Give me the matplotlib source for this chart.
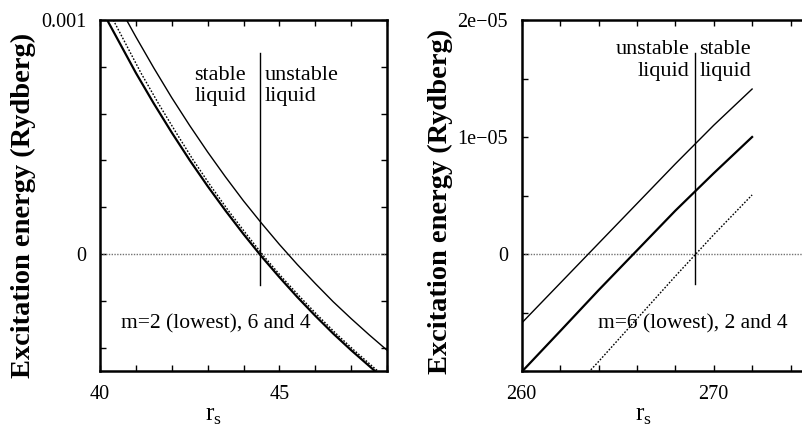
import matplotlib
matplotlib.use("Agg")
import matplotlib.pyplot as plt
from matplotlib.ticker import MultipleLocator

plt.rcParams['font.family'] = ['Liberation Serif', 'DejaVu Serif']
plt.rcParams['mathtext.fontset'] = 'custom'
plt.rcParams['mathtext.rm'] = 'Liberation Serif'

# ---- left panel data (rs ~ 40-48, energy in Rydberg) ----
rs_m2 = [40.2, 41, 41.5, 42, 42.5, 43, 43.5, 44, 44.5, 45, 45.5, 46, 46.5, 47, 47.7]
e_m2 = [1.0e-3, 0.774e-3, 0.643e-3, 0.519e-3, 0.401e-3, 0.290e-3, 0.185e-3, 0.085e-3,
        -0.010e-3, -0.099e-3, -0.184e-3, -0.264e-3, -0.340e-3, -0.411e-3, -0.505e-3]

rs_m6 = [40.37, 41.14, 41.63, 42.12, 42.6, 43.09, 43.58, 44.08, 44.57, 45.07, 45.58,
         46.08, 46.58, 47.08, 47.78]
e_m6 = e_m2

rs_m4 = [40.74, 41, 41.5, 42, 42.5, 43, 43.5, 44, 44.5, 45, 45.5, 46, 46.5, 47, 47.5, 48]
e_m4 = [1.0e-3, 0.928e-3, 0.795e-3, 0.668e-3, 0.549e-3, 0.436e-3, 0.329e-3, 0.227e-3,
        0.132e-3, 0.041e-3, -0.045e-3, -0.126e-3, -0.204e-3, -0.276e-3, -0.345e-3, -0.411e-3]

left_boundary = 44.47
left_xticks = [40, 45]
left_yticks = [0, 0.001]
left_yticklabels = ['0', '0.001']

# ---- right panel data (rs ~ 260-272) ----
rs2_m2 = [260, 262, 264, 266, 268, 270, 272]
e2_m2 = [-0.59e-5, -0.25e-5, 0.09e-5, 0.43e-5, 0.77e-5, 1.10e-5, 1.41e-5]

rs2_m6 = [260.1, 262, 264, 266, 268, 270, 272]
e2_m6 = [-0.99e-5, -0.66e-5, -0.31e-5, 0.03e-5, 0.37e-5, 0.69e-5, 1.0e-5]

rs2_m4 = [263.6, 264, 266, 268, 270, 272]
e2_m4 = [-0.99e-5, -0.92e-5, -0.555e-5, -0.19e-5, 0.165e-5, 0.505e-5]

right_boundary = 269.0
right_xticks = [260, 270]
right_yticks = [0, 1e-5, 2e-5]
right_yticklabels = ['0', '1e\u221205', '2e\u221205']

ylabel = 'Excitation energy (Rydberg)'
xlabel = r'r$_\mathregular{s}$'

fig = plt.figure(figsize=(8.03, 4.3), dpi=100)
ax1 = fig.add_axes([100/803, 1-371/430, 287/803, 351/430])
ax2 = fig.add_axes([521.7/803, 1-371/430, 384/803, 351/430])

def style(ax):
    for s in ax.spines.values():
        s.set_linewidth(1.8)
    ax.tick_params(which='both', direction='in', top=True, right=True,
                   length=4, width=1, labelsize=14.5, pad=10)

# left
ax1.axhline(0, color='0.45', lw=1, ls=(0, (1, 1)))
ax1.plot(rs_m2, e_m2, color='k', lw=1.6)
ax1.plot(rs_m6, e_m6, color='k', lw=1, ls=(0, (1.2, 1.2)))
ax1.plot(rs_m4, e_m4, color='k', lw=1)
ax1.plot([left_boundary, left_boundary], [0.86e-3, -0.132e-3], color='k', lw=1)
ax1.set_xlim(40, 48)
ax1.set_ylim(-0.0005, 0.001)
ax1.set_xticks(left_xticks)
ax1.set_yticks(left_yticks, left_yticklabels)
ax1.xaxis.set_minor_locator(MultipleLocator(1))
ax1.yaxis.set_minor_locator(MultipleLocator(0.0002))
style(ax1)
ax1.text(44.07, 0.805e-3, 'stable\nliquid', ha='right', va='top', fontsize=16, linespacing=1.2)
ax1.text(44.6, 0.805e-3, 'unstable\nliquid', ha='left', va='top', fontsize=16, linespacing=1.2)
ax1.text(43.24, -0.3e-3, 'm=2 (lowest), 6 and 4', ha='center', va='center', fontsize=15.5)

# right
ax2.axhline(0, color='0.45', lw=1, ls=(0, (1, 1)))
ax2.plot(rs2_m2, e2_m2, color='k', lw=1)
ax2.plot(rs2_m6, e2_m6, color='k', lw=1.6)
ax2.plot(rs2_m4, e2_m4, color='k', lw=1, ls=(0, (1.2, 1.2)))
ax2.plot([right_boundary, right_boundary], [1.72e-5, -0.26e-5], color='k', lw=1)
ax2.set_xlim(260, 280)
ax2.set_ylim(-1e-5, 2e-5)
ax2.set_xticks(right_xticks)
ax2.set_yticks(right_yticks, right_yticklabels)
ax2.xaxis.set_minor_locator(MultipleLocator(2))
ax2.yaxis.set_minor_locator(MultipleLocator(0.5e-5))
style(ax2)
ax2.text(268.75, 1.83e-5, 'unstable\nliquid', ha='right', va='top', fontsize=16, linespacing=1.2)
ax2.text(269.25, 1.83e-5, 'stable\nliquid', ha='left', va='top', fontsize=16, linespacing=1.2)
ax2.text(268.92, -0.6e-5, 'm=6 (lowest), 2 and 4', ha='center', va='center', fontsize=15.5)

fig.text(23/803, 1-205/430, ylabel, rotation=90, ha='center', va='center',
         fontsize=20.5, fontweight='bold')
fig.text(440.7/803, 1-201/430, ylabel, rotation=90, ha='center', va='center',
         fontsize=20.5, fontweight='bold')
fig.text(213/803, 1-416/430, xlabel, ha='center', va='center', fontsize=18)
fig.text(643/803, 1-416/430, xlabel, ha='center', va='center', fontsize=18)

fig.savefig('out.png', dpi=100)
